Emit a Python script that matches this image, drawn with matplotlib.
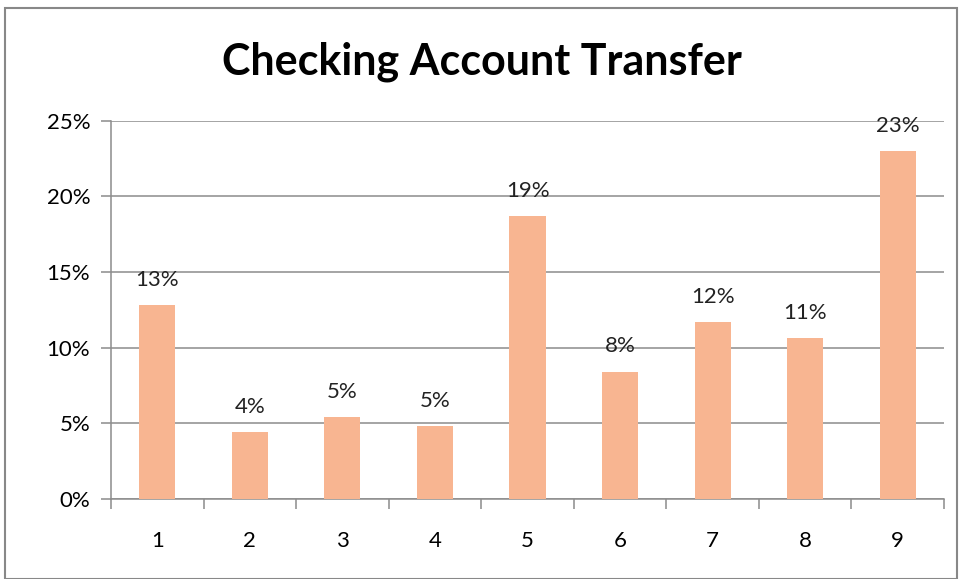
import matplotlib.pyplot as plt
from matplotlib.patches import Rectangle

categories = ['1', '2', '3', '4', '5', '6', '7', '8', '9']
values = [12.8, 4.4, 5.4, 4.8, 18.7, 8.4, 11.7, 10.6, 23.0]
yticks = [0, 5, 10, 15, 20, 25]

plt.rcParams['font.family'] = ['Lato', 'DejaVu Sans']

fig = plt.figure(figsize=(9.63, 5.79), dpi=100)
ax = fig.add_axes([0.1153, 0.1387, 0.865, 0.6528])

x = list(range(1, len(categories) + 1))
bars = ax.bar(x, values, width=0.39, color='#F8B591', zorder=3)

for xi, v in zip(x, values):
    ax.annotate(f'{round(v)}%', (xi, v), xytext=(0, 11), textcoords='offset points',
                ha='center', va='bottom', fontsize=16, color='#222222')

ax.set_xlim(0.5, len(categories) + 0.5)
ax.set_ylim(0, 25)
ax.set_yticks(yticks)
ax.set_yticklabels([f'{t}%' for t in yticks], fontsize=16)
ax.yaxis.grid(True, color='#8c8c8c', linewidth=1.1, zorder=0)

# boundary ticks as major, labels at centres as minor
ax.set_xticks([i + 0.5 for i in range(len(categories) + 1)])
ax.set_xticklabels([])
ax.set_xticks(x, minor=True)
ax.set_xticklabels(categories, minor=True, fontsize=16)
ax.tick_params(axis='x', which='major', length=7, color='#8c8c8c', width=1.1)
ax.tick_params(axis='x', which='minor', length=0, pad=23)
ax.tick_params(axis='y', length=7, color='#8c8c8c', width=1.1, pad=8)

for s in ['top', 'right']:
    ax.spines[s].set_visible(False)
for s in ['left', 'bottom']:
    ax.spines[s].set_color('#8c8c8c')
    ax.spines[s].set_linewidth(1.1)

fig.text(0.5, 0.893, 'Checking Account Transfer', ha='center', va='center',
         fontsize=31, fontweight='bold')

fig.patches.append(Rectangle((5 / 963, 0), 952 / 963, 1 - 8 / 579, transform=fig.transFigure,
                             fill=False, edgecolor='#888888', linewidth=1.5))

fig.savefig('out.png', dpi=100)
